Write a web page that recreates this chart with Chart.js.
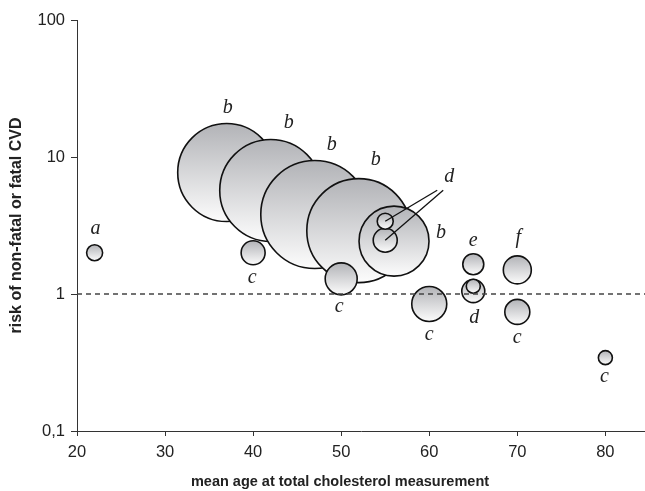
<!DOCTYPE html>
<html><head><meta charset="utf-8">
<script src="https://cdn.jsdelivr.net/npm/chart.js@4"></script>
<style>html,body{margin:0;padding:0;background:#fff}#wrap{width:645px;height:491px}</style>
</head><body><div id="wrap"><canvas id="c" width="645" height="491"></canvas></div>
<script>
// ---- data ----
const ages    = [22, 37, 42, 47, 52, 40, 50, 56, 55, 55, 60, 65, 65, 65, 70, 70, 80];
const risks   = [2.0, 7.7, 5.7, 3.8, 2.9, 2.0, 1.29, 2.43, 2.47, 3.4, 0.845, 1.65, 1.05, 1.14, 1.5, 0.74, 0.343];
const sizes   = [8, 49, 51, 54, 52, 12, 16, 35, 12, 8, 17.5, 10.5, 11.5, 7, 14, 12.5, 7];
const letters = ['a','b','b','b','b','c','c','b','','','c','e','d','','f','c','c'];
const xTicks  = [20, 30, 40, 50, 60, 70, 80];
const yTicks  = [0.1, 1, 10, 100];
const yTickLabels = ['0,1', '1', '10', '100'];
const refRisk = 1;
const xTitle = 'mean age at total cholesterol measurement';
const yTitle = 'risk of non-fatal or fatal CVD';
// callout: letter 'd' pointing to points 9 and 8
const callout = {text: 'd', targets: [9, 8]};

// ---- styles ----
const labelOffsets = [[1,-24],[1,-65],[18,-68],[17,-70],[17,-71],[-1,25],[-2,28],[47,-8],null,null,[0,31],[0,-23],[1,27],null,[1,-32],[0,26],[-1,19]];
const calloutStyle = {dx: 64, dy: -44, lineStarts: [[-12, 13], [-6, 13]]};
const xTitleStyle = {shift: -21, y: 482, font: 'bold 14.5px "Liberation Sans", Arial, sans-serif'};
const sans = '"Liberation Sans", Arial, sans-serif';

const points = ages.map((a, i) => ({x: a, y: risks[i], r: sizes[i]}));

const labelPlugin = {
  id: 'labels',
  afterDatasetsDraw(chart) {
    const ctx = chart.ctx;
    const meta = chart.getDatasetMeta(0);
    const xs = chart.scales.x, ys = chart.scales.y;
    const yy = ys.getPixelForValue(refRisk);
    ctx.save();
    ctx.strokeStyle = '#444';
    ctx.lineWidth = 1.5;
    ctx.setLineDash([5, 4]);
    ctx.beginPath();
    ctx.moveTo(xs.left, yy);
    ctx.lineTo(xs.right, yy);
    ctx.stroke();
    ctx.restore();

    ctx.save();
    ctx.font = 'italic 20px "Liberation Serif", "DejaVu Serif", serif';
    ctx.fillStyle = '#222';
    ctx.textAlign = 'center';
    ctx.textBaseline = 'middle';
    letters.forEach((t, i) => {
      if (!t || !labelOffsets[i]) return;
      const el = meta.data[i];
      ctx.fillText(t, el.x + labelOffsets[i][0], el.y + labelOffsets[i][1]);
    });
    const base = meta.data[callout.targets[0]];
    const lx = base.x + calloutStyle.dx, ly = base.y + calloutStyle.dy;
    ctx.fillText(callout.text, lx, ly);
    ctx.strokeStyle = '#111';
    ctx.lineWidth = 1.3;
    callout.targets.forEach((ti, k) => {
      const el = meta.data[ti];
      const s = calloutStyle.lineStarts[k];
      ctx.beginPath();
      ctx.moveTo(lx + s[0], ly + s[1]);
      ctx.lineTo(el.x, el.y);
      ctx.stroke();
    });
    // x-axis title
    ctx.font = xTitleStyle.font;
    ctx.fillStyle = '#222';
    ctx.fillText(xTitle, (xs.left + xs.right) / 2 + xTitleStyle.shift, xTitleStyle.y);
    ctx.restore();
  }
};

new Chart(document.getElementById('c'), {
  type: 'bubble',
  data: {
    datasets: [{
      data: points,
      borderColor: '#111',
      borderWidth: 1.6,
      clip: false,
      backgroundColor: (c) => {
        if (c.type !== 'data') return '#ccc';
        const chart = c.chart, ys = chart.scales.y;
        if (!ys || ys.top === undefined) return '#ccc';
        const cy = ys.getPixelForValue(c.raw.y), r = c.raw.r;
        const g = chart.ctx.createLinearGradient(0, cy - r, 0, cy + r);
        g.addColorStop(0, '#b2b3b7');
        g.addColorStop(1, '#fcfcfc');
        return g;
      },
      hoverRadius: 0
    }]
  },
  options: {
    responsive: false,
    animation: false,
    events: [],
    layout: {autoPadding: false, padding: {top: 20, right: 0, left: 0, bottom: 0}},
    plugins: {legend: {display: false}, tooltip: {enabled: false}},
    scales: {
      x: {
        type: 'linear', min: 20, max: 84.5,
        afterFit: (s) => { s.height = 60; },
        afterBuildTicks: (s) => { s.ticks = xTicks.map(v => ({value: v})); },
        ticks: {font: {family: sans, size: 16.5}, color: '#222', padding: 7, includeBounds: false, maxRotation: 0},
        grid: {drawOnChartArea: false, tickLength: 5, color: '#333', tickWidth: 1},
        border: {color: '#333', width: 1},
        title: {display: false}
      },
      y: {
        type: 'logarithmic', min: 0.1, max: 100,
        afterFit: (s) => { s.width = 77; },
        afterBuildTicks: (s) => { s.ticks = yTicks.map(v => ({value: v})); },
        ticks: {font: {family: sans, size: 16.5}, color: '#222', padding: 6,
          callback: (v, i) => yTickLabels[i]},
        grid: {drawOnChartArea: false, tickLength: 6, color: '#333', tickWidth: 1},
        border: {color: '#333', width: 1},
        title: {display: true, text: yTitle, font: {family: sans, size: 16, weight: 'bold'}, color: '#222', padding: {top: 7, bottom: 0}}
      }
    }
  },
  plugins: [labelPlugin]
});
</script>
</body></html>
